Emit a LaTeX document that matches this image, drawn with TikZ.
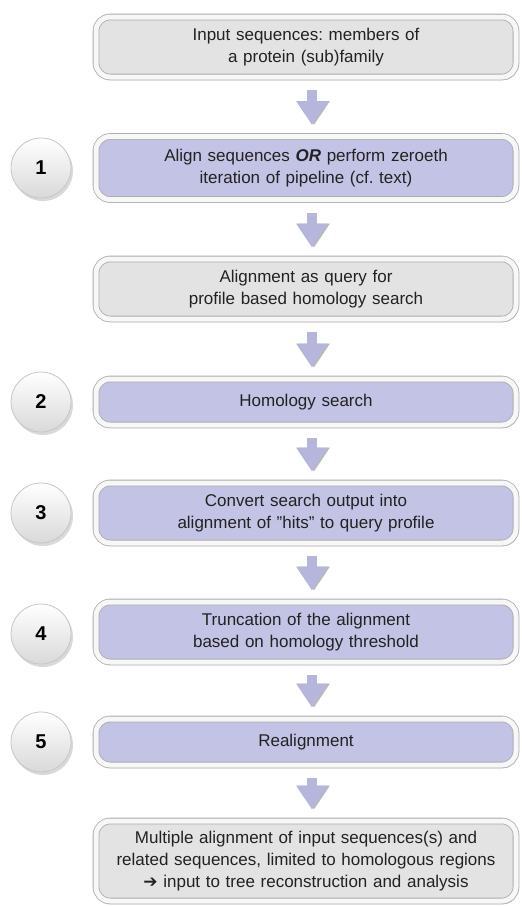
\documentclass[tikz,border=0pt]{standalone}
\usepackage{fontspec}
\setmainfont{Liberation Sans}
\newfontfamily\symbfont{DejaVu Sans}
\usetikzlibrary{arrows.meta,shadows}
\definecolor{stepcolor}{HTML}{C3C3E5}
\definecolor{plaincolor}{HTML}{E3E3E3}
\definecolor{rimcolor}{HTML}{ABABAB}
\definecolor{arrowcolor}{HTML}{B6B6DC}
\definecolor{inkcolor}{HTML}{222222}
\frenchspacing
\tikzset{
  pipe box/.style={rounded corners=14pt,minimum width=420pt,text width=412pt,align=center,
    fill=plaincolor,draw=rimcolor,line width=.8pt,double=gray!6,double distance=5pt,
    drop shadow={shadow xshift=2pt,shadow yshift=-3pt,opacity=.3},
    text=inkcolor,font=\fontsize{17}{22}\selectfont},
  pipe step/.style={pipe box,fill=stepcolor},
  pipe num/.style={circle,minimum size=60pt,top color=white,bottom color=gray!30,
    draw=gray!45,line width=.8pt,drop shadow={shadow xshift=2pt,shadow yshift=-3pt,opacity=.3},
    text=black,font=\fontsize{20}{24}\selectfont\bfseries},
  pipe arrow/.style={arrowcolor,line width=10pt,-{Triangle[width=30pt,length=24pt]},
    shorten <=13pt,shorten >=11pt,
    preaction={draw=gray!55,transform canvas={xshift=2pt}}}
}
\begin{document}
\begin{tikzpicture}[x=1pt,y=-1pt]
  \useasboundingbox (0,0) rectangle (522,906);
  % pipeline boxes
  \node[pipe box,minimum height=60pt] (in) at (306,47) {Input sequences: members of\\a protein (sub)family};
  \node[pipe step,minimum height=63pt] (s1) at (306,168) {Align sequences \textbf{\textit{OR}} perform zeroeth\\iteration of pipeline (cf. text)};
  \node[pipe box,minimum height=60pt] (qry) at (306,289) {Alignment as query for\\profile based homology search};
  \node[pipe step,minimum height=46pt] (s2) at (306,402) {Homology search};
  \node[pipe step,minimum height=60pt] (s3) at (306,513) {Convert search output into\\alignment of "hits" to query profile};
  \node[pipe step,minimum height=60pt] (s4) at (306,632) {Truncation of the alignment\\based on homology threshold};
  \node[pipe step,minimum height=46pt] (s5) at (306,742) {Realignment};
  \node[pipe box,minimum height=80pt] (out) at (306,861) {Multiple alignment of input sequences(s) and\\related sequences, limited to homologous regions\\{\symbfont\fontsize{17}{22}\selectfont ➔} input to tree reconstruction and analysis};
  % step numbers
  \foreach \i/\y in {1/168,2/402,3/513,4/634,5/742}
    \node[pipe num] (n\i) at (41,\y) {\i};
  % arrows
  \foreach \a/\b in {in/s1,s1/qry,qry/s2,s2/s3,s3/s4,s4/s5,s5/out}
    \draw[pipe arrow] ([xshift=6pt]\a.south) -- ([xshift=6pt]\b.north);
\end{tikzpicture}
\end{document}
